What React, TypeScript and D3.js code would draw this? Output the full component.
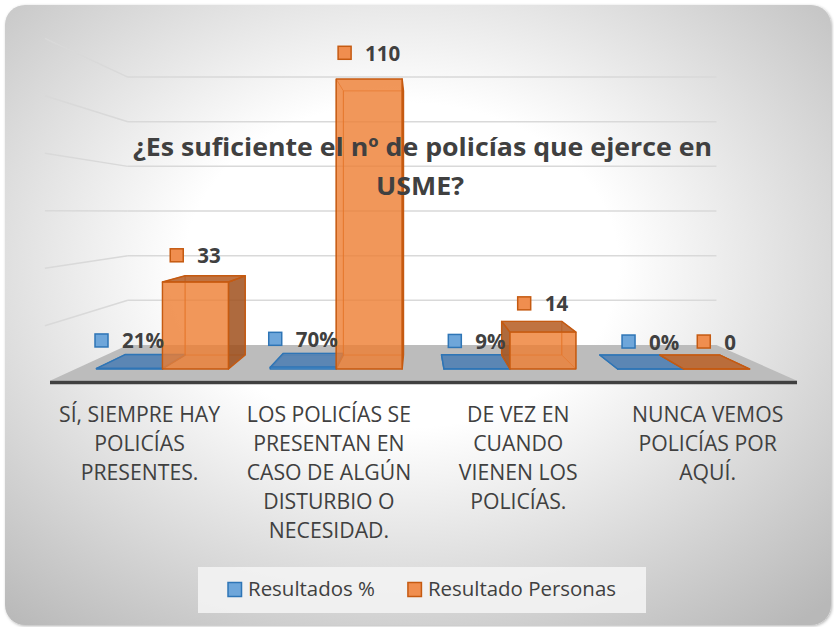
import React from 'react';
import * as d3 from 'd3';

// ---------- data ----------
const categories: string[][] = [
  ["SÍ, SIEMPRE HAY", "POLICÍAS", "PRESENTES."],
  ["LOS POLICÍAS SE", "PRESENTAN EN", "CASO DE ALGÚN", "DISTURBIO O", "NECESIDAD."],
  ["DE VEZ EN", "CUANDO", "VIENEN LOS", "POLICÍAS."],
  ["NUNCA VEMOS", "POLICÍAS POR", "AQUÍ."],
];
const seriesNames = ["Resultados %", "Resultado Personas"];
const resultadosPct = [0.21, 0.70, 0.09, 0];
const resultadoPersonas = [33, 110, 14, 0];
const gridValues = [20, 40, 60, 80, 100, 120];
const titleLines = ["¿Es suficiente el nº de policías que ejerce en", "USME?"];

// ---------- styles ----------
const W = 834, H = 627;
const TEXT = '#404040';
const seriesStyle = [
  { front: '#5B9BD5', side: '#3d6e9e', top: '#5080b2', stroke: '#2e75b6', key: '#6ea6da' },
  { front: '#ED7D31', side: '#a0501c', top: '#b9642c', stroke: '#c55a11', key: '#f08e4f' },
];
const FONT = "'Open Sans', 'Noto Sans', sans-serif";

// perspective
const VX = 417, VY = 212;
const S_BAR = 0.911, S_WALL = 0.847, S_FLOOR = 1.075, S_EDGE = 1.09;

const proj = (X: number, Y: number, s: number): [number, number] => [VX + (X - VX) * s, VY + (Y - VY) * s];
const poly = (pts: [number, number][]) => pts.map(p => `${p[0].toFixed(2)},${p[1].toFixed(2)}`).join(' ');

let ctx: CanvasRenderingContext2D | null = null;
function measure(text: string, font: string): number {
  if (!ctx && typeof document !== 'undefined') ctx = document.createElement('canvas').getContext('2d');
  if (!ctx) return text.length * 10;
  ctx.font = font;
  return ctx.measureText(text).width;
}
function fitSize(text: string, weight: string, target: number) {
  return (100 * target) / measure(text, `${weight} 100px ${FONT}`);
}

export default function App() {
  const x = d3.scaleBand<number>().domain(d3.range(categories.length)).range([75.6, 770.5]);
  const GROUP = 132;
  const xs = d3.scaleBand<number>().domain([0, 1]).range([0, GROUP]);
  const y = d3.scaleLinear().domain([0, 120]).range([369, 52.7]);
  const X0w = x.range()[0], X1w = x.range()[1];
  const base = y(0);

  const series = [resultadosPct, resultadoPersonas];
  const fmtPct = d3.format('.0%');

  // title: Calibri-like proportions (taller, narrower) via horizontal compression
  const titleSize = 25.5;
  const titleRatio = 579 / measure(titleLines[0], `bold ${titleSize}px ${FONT}`);
  const titleLens = titleLines.map(t => measure(t, `bold ${titleSize}px ${FONT}`) * titleRatio);

  const catSize = 21;
  const catRatio = 161 / measure(categories[0][0], `${catSize}px ${FONT}`);

  const legSize = fitSize(seriesNames[0], 'normal', 127);
  const labelSize = 20.5;

  // bars
  const bars: JSX.Element[] = [];
  const labels: JSX.Element[] = [];
  categories.forEach((_, i) => {
    [0, 1].forEach(j => {
      const v = series[j][i];
      const st = seriesStyle[j];
      const bx0 = (x(i) as number) + (x.bandwidth() - GROUP) / 2 + (xs(j) as number);
      const bx1 = bx0 + xs.bandwidth();
      const yt = y(v);
      const F = (X: number, Y: number) => proj(X, Y, 1);
      const B = (X: number, Y: number) => proj(X, Y, S_BAR);
      const front = [F(bx0, base), F(bx1, base), F(bx1, yt), F(bx0, yt)];
      const back = [B(bx0, base), B(bx1, base), B(bx1, yt), B(bx0, yt)];
      const top = [F(bx0, yt), F(bx1, yt), B(bx1, yt), B(bx0, yt)];
      const left = [F(bx0, base), F(bx0, yt), B(bx0, yt), B(bx0, base)];
      const right = [F(bx1, base), F(bx1, yt), B(bx1, yt), B(bx1, base)];
      const showTop = yt > VY;
      const showLeft = bx0 > VX;
      const showRight = bx1 < VX;
      const k = `b${i}-${j}`;
      const sw = 1.4;
      bars.push(
        <g key={k}>
          <polygon points={poly(back)} fill="none" stroke={st.stroke} strokeWidth={1} strokeOpacity={0.7} />
          {!showLeft && <polygon points={poly(left)} fill="none" stroke={st.stroke} strokeWidth={1} strokeOpacity={0.7} />}
          {!showRight && <polygon points={poly(right)} fill="none" stroke={st.stroke} strokeWidth={1} strokeOpacity={0.7} />}
          {showLeft && <polygon points={poly(left)} fill={st.side} fillOpacity={0.85} stroke={st.stroke} strokeWidth={sw} strokeLinejoin="round" />}
          {showRight && <polygon points={poly(right)} fill={st.side} fillOpacity={0.85} stroke={st.stroke} strokeWidth={sw} strokeLinejoin="round" />}
          {showTop && <polygon points={poly(top)} fill={st.top} fillOpacity={0.9} stroke={st.stroke} strokeWidth={sw} strokeLinejoin="round" />}
          <polygon points={poly(front)} fill={st.front} fillOpacity={0.8} stroke={st.stroke} strokeWidth={sw} strokeLinejoin="round" />
        </g>
      );

      // data label
      const text = j === 0 ? fmtPct(v) : String(v);
      const tw = measure(text, `bold ${labelSize}px ${FONT}`);
      const topmost = Math.min(yt, B(bx0, yt)[1]);
      const hpx = base - yt;
      const cy = topmost - (13 + 0.75 * Math.sqrt(hpx));
      const cx = (bx0 + bx1) / 2;
      const gw = 14 + 13 + tw;
      const gx = cx - gw / 2;
      labels.push(
        <g key={`l${i}-${j}`}>
          <rect x={gx} y={cy - 7} width={13} height={13} fill={st.key} stroke={st.stroke} strokeWidth={1.5} />
          <text x={gx + 27} y={cy + 7.5} fontFamily={FONT} fontWeight="bold" fontSize={labelSize} fill={TEXT}>{text}</text>
        </g>
      );
    });
  });

  // legend layout
  const legW = seriesNames.map(n => measure(n, `${legSize}px ${FONT}`));
  const itemW = legW.map(w => 14 + 6 + w);
  const legGap = 33;
  const legTotal = itemW[0] + legGap + itemW[1];
  const legCx = 422;
  let lx = legCx - legTotal / 2;
  const legItems = seriesNames.map((n, j) => {
    const gx = lx;
    lx += itemW[j] + legGap;
    return (
      <g key={n}>
        <rect x={gx} y={582.5} width={13.5} height={14} fill={seriesStyle[j].key} stroke={seriesStyle[j].stroke} strokeWidth={1.5} />
        <text x={gx + 20} y={596} fontFamily={FONT} fontSize={legSize} fill={TEXT}>{n}</text>
      </g>
    );
  });

  return (
    <svg width={W} height={H} style={{ position: 'absolute', left: 0, top: 0 }} xmlns="http://www.w3.org/2000/svg">
      <defs>
        <radialGradient id="bg" cx="0.48" cy="0.42" r="0.75">
          <stop offset="0" stopColor="#ffffff" />
          <stop offset="0.35" stopColor="#ffffff" />
          <stop offset="1" stopColor="#b8b8b8" />
        </radialGradient>
        <filter id="sh" x="-5%" y="-5%" width="110%" height="110%">
          <feDropShadow dx="1" dy="1" stdDeviation="1.5" floodColor="#000" floodOpacity="0.3" />
        </filter>
      </defs>
      <rect x={0} y={0} width={W} height={H} fill="#ffffff" />
      <rect x={5} y={5} width={826} height={620} rx={20} ry={20} fill="url(#bg)" filter="url(#sh)" />

      {/* gridlines: back wall + left wall */}
      <g stroke="#d9d9d9" strokeWidth={1.5} fill="none">
        {gridValues.map(v => {
          const a = proj(X0w, y(v), S_WALL);
          const b = proj(X1w, y(v), S_WALL);
          const c = proj(X0w, y(v), S_EDGE);
          return (
            <g key={v}>
              <line x1={a[0]} y1={a[1]} x2={b[0]} y2={b[1]} />
              <line x1={c[0]} y1={c[1]} x2={a[0]} y2={a[1]} />
            </g>
          );
        })}
      </g>

      {/* floor */}
      <polygon
        points={poly([proj(X0w, base, S_WALL), proj(X1w, base, S_WALL), proj(X1w, base, S_FLOOR), proj(X0w, base, S_FLOOR)])}
        fill="#bcbcbc"
      />
      <polygon
        points={poly([proj(X0w, base, S_FLOOR), proj(X1w, base, S_FLOOR), proj(X1w, base + 3.3, S_FLOOR), proj(X0w, base + 3.3, S_FLOOR)])}
        fill="#404040"
      />

      {bars}
      {labels}

      {/* title */}
      <g fontFamily={FONT} fontWeight="bold" fontSize={titleSize} fill={TEXT} textAnchor="middle">
        <text x={422.5} y={156} textLength={titleLens[0]} lengthAdjust="spacingAndGlyphs">{titleLines[0]}</text>
        <text x={420} y={195} textLength={titleLens[1]} lengthAdjust="spacingAndGlyphs">{titleLines[1]}</text>
      </g>

      {/* category labels */}
      <g fontFamily={FONT} fontSize={catSize} fill={TEXT} textAnchor="middle">
        {categories.map((lines, i) => {
          const cx = proj((x(i) as number) + x.bandwidth() / 2, base, S_EDGE)[0];
          return (
            <g key={i}>
              {lines.map((ln, k) => (
                <text key={k} x={cx} y={422 + k * 29} textLength={measure(ln, `${catSize}px ${FONT}`) * catRatio} lengthAdjust="spacingAndGlyphs">{ln}</text>
              ))}
            </g>
          );
        })}
      </g>

      {/* legend */}
      <rect x={198} y={567} width={448} height={46} fill="#f3f3f3" fillOpacity={0.9} />
      {legItems}
    </svg>
  );
}
